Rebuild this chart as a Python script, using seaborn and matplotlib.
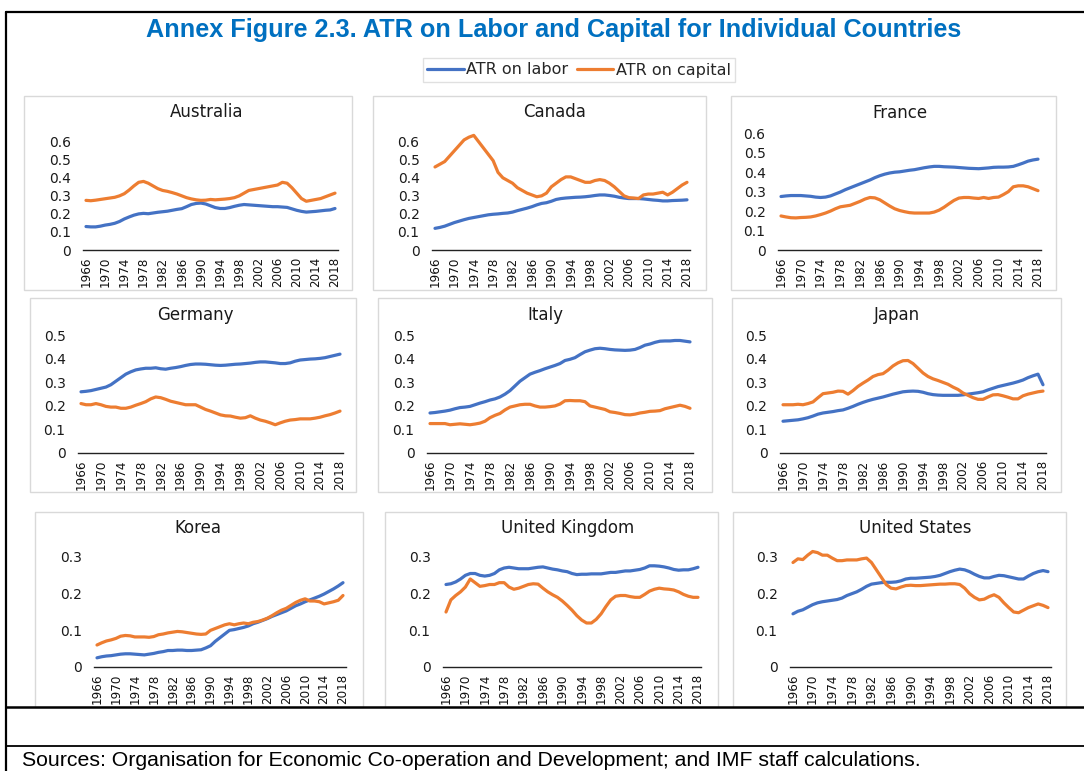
import numpy as np
import pandas as pd
import matplotlib
matplotlib.use("Agg")
import matplotlib.pyplot as plt
from matplotlib.lines import Line2D
from matplotlib.patches import Rectangle
import seaborn as sns

# ---------------- data ----------------
years = list(range(1966, 2019))
tick_years = list(range(1966, 2019, 4))
series_names = ["ATR on labor", "ATR on capital"]
countries = ["Australia", "Canada", "France", "Germany", "Italy", "Japan",
             "Korea", "United Kingdom", "United States"]

australia_labor = [.130, .128, .128, .132, .138, .142, .148, .158, .172, .183,
                   .193, .200, .203, .201, .205, .209, .212, .215, .220, .225,
                   .229, .240, .252, .258, .260, .255, .245, .235, .230, .230,
                   .235, .242, .248, .252, .250, .248, .246, .244, .242, .240,
                   .240, .238, .236, .228, .220, .214, .210, .212, .214, .217,
                   .220, .222, .230]
australia_capital = [.275, .273, .276, .280, .284, .288, .292, .300, .312, .332,
                     .355, .375, .380, .370, .355, .340, .330, .325, .318, .310,
                     .300, .290, .283, .278, .275, .276, .280, .278, .280, .282,
                     .285, .290, .300, .315, .330, .335, .340, .345, .350, .355,
                     .360, .375, .370, .345, .315, .285, .270, .275, .280, .285,
                     .295, .305, .315]
canada_labor = [.120, .125, .132, .142, .152, .160, .168, .175, .180, .185,
                .190, .195, .198, .200, .203, .205, .210, .218, .225, .232,
                .240, .250, .258, .262, .270, .280, .285, .288, .290, .292,
                .293, .295, .298, .302, .305, .305, .302, .298, .292, .288,
                .285, .285, .285, .283, .280, .277, .275, .272, .272, .274,
                .275, .276, .278]
canada_capital = [.460, .475, .490, .520, .550, .580, .610, .625, .635, .600,
                  .565, .530, .495, .430, .400, .385, .370, .345, .330, .315,
                  .305, .295, .300, .315, .350, .370, .390, .405, .405, .395,
                  .385, .375, .375, .385, .390, .385, .370, .350, .325, .300,
                  .290, .288, .285, .305, .310, .310, .315, .320, .305, .320,
                  .340, .360, .375]
france_labor = [.275, .278, .280, .280, .280, .278, .276, .272, .270, .272,
                .278, .288, .298, .310, .320, .330, .340, .350, .360, .372,
                .382, .390, .396, .400, .402, .406, .410, .413, .418, .423,
                .427, .430, .430, .428, .427, .426, .424, .422, .420, .419,
                .418, .420, .422, .425, .426, .426, .427, .430, .438, .447,
                .457, .463, .467]
france_capital = [.175, .170, .166, .165, .167, .168, .170, .175, .182, .190,
                  .200, .212, .222, .226, .230, .240, .250, .262, .270, .268,
                  .258, .242, .226, .212, .203, .197, .192, .190, .190, .190,
                  .190, .195, .205, .220, .238, .255, .267, .270, .270, .267,
                  .265, .270, .265, .270, .272, .285, .300, .325, .330, .330,
                  .325, .315, .305]
germany_labor = [.260, .262, .265, .270, .275, .280, .290, .305, .320, .335,
                 .345, .353, .357, .360, .360, .362, .358, .356, .360, .363,
                 .367, .372, .376, .378, .378, .377, .375, .373, .372, .373,
                 .375, .377, .378, .380, .382, .385, .387, .387, .385, .383,
                 .380, .380, .383, .390, .395, .397, .399, .400, .402, .405,
                 .410, .415, .420]
germany_capital = [.210, .205, .205, .210, .205, .198, .195, .195, .190, .190,
                   .195, .203, .210, .218, .230, .238, .235, .228, .220, .215,
                   .210, .205, .205, .205, .195, .185, .178, .170, .162, .158,
                   .157, .152, .148, .150, .158, .148, .140, .135, .128, .120,
                   .128, .135, .140, .142, .145, .145, .145, .148, .152, .158,
                   .163, .170, .178]
italy_labor = [.170, .172, .175, .178, .182, .188, .193, .195, .198, .205,
               .212, .218, .225, .230, .238, .250, .265, .285, .305, .320,
               .335, .343, .350, .358, .365, .372, .380, .393, .398, .405,
               .418, .430, .437, .443, .445, .443, .440, .438, .437, .436,
               .437, .440, .448, .458, .463, .470, .475, .476, .476, .478,
               .478, .475, .472]
italy_capital = [.125, .125, .125, .125, .120, .122, .124, .122, .120, .123,
                 .127, .135, .150, .160, .168, .183, .195, .200, .205, .207,
                 .207, .200, .195, .195, .197, .200, .208, .222, .223, .222,
                 .222, .218, .200, .195, .190, .185, .175, .172, .168, .163,
                 .162, .165, .170, .173, .177, .178, .180, .188, .193, .198,
                 .203, .198, .190]
japan_labor = [.135, .137, .139, .141, .145, .150, .157, .165, .170, .173,
               .176, .180, .183, .190, .198, .207, .215, .222, .228, .233,
               .238, .244, .250, .255, .260, .262, .263, .262, .258, .252,
               .248, .246, .245, .245, .245, .245, .247, .250, .253, .256,
               .260, .268, .275, .282, .287, .292, .297, .303, .310, .320,
               .328, .335, .290]
japan_capital = [.205, .205, .205, .207, .205, .210, .217, .235, .252, .255,
                 .258, .263, .262, .250, .265, .283, .297, .310, .325, .333,
                 .337, .352, .370, .383, .392, .393, .380, .360, .340, .325,
                 .315, .308, .300, .292, .280, .270, .255, .245, .235, .228,
                 .228, .238, .247, .248, .243, .237, .230, .230, .243, .250,
                 .255, .260, .263]
korea_labor = [.025, .028, .030, .031, .033, .035, .036, .036, .035, .034,
               .033, .035, .037, .040, .042, .045, .045, .046, .046, .045,
               .045, .046, .047, .052, .058, .070, .080, .090, .100, .102,
               .105, .108, .112, .118, .122, .127, .132, .138, .143, .148,
               .153, .160, .167, .172, .178, .183, .188, .193, .199, .206,
               .213, .221, .230]
korea_capital = [.060, .066, .071, .074, .078, .084, .086, .085, .082, .082,
                 .082, .081, .083, .088, .090, .093, .095, .097, .096, .094,
                 .092, .090, .089, .090, .100, .105, .110, .115, .118, .115,
                 .118, .120, .118, .122, .124, .128, .133, .140, .148, .155,
                 .160, .168, .176, .182, .186, .180, .180, .178, .172, .175,
                 .178, .182, .195]
uk_labor = [.225, .227, .232, .240, .250, .255, .255, .250, .248, .250,
            .255, .265, .270, .272, .270, .268, .268, .268, .270, .272,
            .273, .270, .267, .265, .262, .260, .255, .252, .253, .253,
            .254, .254, .254, .256, .258, .258, .260, .262, .262, .264,
            .266, .270, .276, .276, .275, .273, .270, .266, .264, .265,
            .265, .268, .272]
uk_capital = [.150, .183, .195, .205, .218, .240, .230, .220, .222, .225,
              .225, .230, .230, .218, .212, .215, .220, .225, .227, .226,
              .215, .205, .197, .190, .180, .168, .155, .140, .128, .120,
              .120, .130, .145, .165, .183, .193, .195, .195, .192, .190,
              .190, .198, .207, .212, .215, .213, .212, .210, .205, .198,
              .193, .190, .190]
us_labor = [.145, .152, .156, .163, .170, .175, .178, .180, .182, .184,
            .188, .195, .200, .205, .212, .220, .226, .228, .230, .231,
            .231, .232, .235, .240, .242, .242, .243, .244, .245, .247,
            .250, .255, .260, .264, .267, .265, .260, .253, .247, .243,
            .243, .247, .250, .249, .246, .243, .240, .240, .248, .255,
            .260, .263, .260]
us_capital = [.285, .295, .293, .305, .315, .312, .305, .305, .297, .290,
              .290, .292, .292, .292, .295, .297, .285, .265, .245, .225,
              .215, .213, .218, .222, .223, .222, .222, .223, .224, .225,
              .226, .226, .227, .227, .225, .215, .200, .190, .183, .185,
              .192, .197, .190, .175, .162, .150, .148, .155, .162, .167,
              .172, .168, .162]

labor_values = [australia_labor, canada_labor, france_labor, germany_labor, italy_labor,
                japan_labor, korea_labor, uk_labor, us_labor]
capital_values = [australia_capital, canada_capital, france_capital, germany_capital,
                  italy_capital, japan_capital, korea_capital, uk_capital, us_capital]
y_max = [0.6, 0.6, 0.6, 0.5, 0.5, 0.5, 0.3, 0.3, 0.3]

rows = []
for c, lab, cap in zip(countries, labor_values, capital_values):
    assert len(lab) == len(years) and len(cap) == len(years), c
    for y, a, b in zip(years, lab, cap):
        rows.append((c, y, series_names[0], a))
        rows.append((c, y, series_names[1], b))
df = pd.DataFrame(rows, columns=["country", "year", "series", "value"])

# ---------------- style ----------------
sns.set_theme(style="white")
plt.rcParams["font.family"] = ["DejaVu Sans"]
BLUE = "#4472C4"
ORANGE = "#ED7D31"
palette = {series_names[0]: BLUE, series_names[1]: ORANGE}

W, H = 1084, 771
fig = plt.figure(figsize=(W / 100, H / 100), dpi=100)


def fx(px):
    return px / W


def fy(py):
    return 1 - py / H


# panel layout in pixels
layout = {
    "Australia":      dict(xl=86, xr=335, y0=250, yt=141.7, tx=207, ty=112, box=(24, 96, 352, 290)),
    "Canada":         dict(xl=435, xr=687, y0=250, yt=141.7, tx=555, ty=112, box=(373, 96, 706, 290)),
    "France":         dict(xl=781, xr=1038, y0=250, yt=133.3, tx=900, ty=113, box=(731, 96, 1056, 290)),
    "Germany":        dict(xl=81, xr=340, y0=453, yt=335.3, tx=195, ty=315, box=(30, 298, 356, 492)),
    "Italy":          dict(xl=430, xr=690, y0=453, yt=335.3, tx=545, ty=315, box=(378, 298, 712, 492)),
    "Japan":          dict(xl=783, xr=1043, y0=453, yt=335.3, tx=897, ty=315, box=(732, 298, 1061, 492)),
    "Korea":          dict(xl=97, xr=343, y0=667, yt=557, tx=198, ty=528, box=(35, 512, 363, 707)),
    "United Kingdom": dict(xl=446, xr=698, y0=667, yt=557, tx=568, ty=528, box=(385, 512, 718, 707)),
    "United States":  dict(xl=793, xr=1048, y0=667, yt=557, tx=915, ty=528, box=(733, 512, 1066, 707)),
}

for c in countries:
    x0, y0b, x1, y1b = layout[c]["box"]
    fig.add_artist(Rectangle((fx(x0), fy(y1b)), (x1 - x0) / W, (y1b - y0b) / H,
                             transform=fig.transFigure, fill=False,
                             edgecolor="#D9D9D9", linewidth=1.0))

pad_years = 0.6
for c, ymax in zip(countries, y_max):
    L = layout[c]
    ppy = (L["xr"] - L["xl"]) / (years[-1] - years[0])
    left = L["xl"] - pad_years * ppy
    right = L["xr"] + pad_years * ppy
    ax = fig.add_axes([fx(left), fy(L["y0"]), (right - left) / W, (L["y0"] - L["yt"]) / H])
    ax.patch.set_alpha(0)
    sub = df[df["country"] == c]
    sns.lineplot(data=sub, x="year", y="value", hue="series", palette=palette,
                 hue_order=series_names, ax=ax, legend=False, linewidth=2.3,
                 errorbar=None)
    for ln in ax.lines:
        ln.set_clip_on(False)
        ln.set_solid_joinstyle("round")
        ln.set_solid_capstyle("round")
    ax.set_xlim(years[0] - pad_years, years[-1] + pad_years)
    ax.set_ylim(0, ymax)
    yt = np.round(np.arange(0, ymax + 1e-9, 0.1), 1)
    ax.set_yticks(yt)
    ax.set_yticklabels(["0" if v == 0 else f"{v:.1f}" for v in yt], fontsize=10, color="#1a1a1a")
    ax.set_xticks(tick_years)
    ax.set_xticklabels([str(t) for t in tick_years], rotation=90, fontsize=8.6, color="#111111")
    ax.tick_params(axis="both", length=0)
    ax.tick_params(axis="y", pad=9)
    ax.tick_params(axis="x", pad=5)
    ax.set_xlabel("")
    ax.set_ylabel("")
    ax.grid(False)
    for s in ["top", "right", "left"]:
        ax.spines[s].set_visible(False)
    ax.spines["bottom"].set_color("#222222")
    ax.spines["bottom"].set_linewidth(1.0)
    fig.text(fx(L["tx"]), fy(L["ty"]), c, ha="center", va="center", fontsize=12, color="#1a1a1a")

# main title
fig.text(fx(554), fy(30), "Annex Figure 2.3. ATR on Labor and Capital for Individual Countries",
         ha="center", va="center", fontsize=18.2, fontweight="bold", color="#0070C0",
         family=["Liberation Sans", "DejaVu Sans"])

# legend
handles = [Line2D([0], [0], color=BLUE, lw=2.3), Line2D([0], [0], color=ORANGE, lw=2.3)]
leg = fig.legend(handles, series_names, loc="center", bbox_to_anchor=(fx(579), fy(70)),
                 ncol=2, frameon=True, fontsize=11.5, handlelength=2.3, handletextpad=0.15,
                 columnspacing=0.5, borderpad=0.3, fancybox=False)
leg.get_frame().set_edgecolor("#D9D9D9")
leg.get_frame().set_linewidth(1.0)


def hline(y, x0, x1, lw):
    fig.add_artist(Line2D([fx(x0), fx(x1)], [fy(y), fy(y)], transform=fig.transFigure,
                          color="black", linewidth=lw))


def vline(x, y0, y1, lw):
    fig.add_artist(Line2D([fx(x), fx(x)], [fy(y0), fy(y1)], transform=fig.transFigure,
                          color="black", linewidth=lw))


hline(12, 6, 1084, 1.6)
hline(707, 6, 1084, 1.8)
hline(746, 6, 1084, 1.3)
vline(6, 12, 771, 1.6)

fig.text(fx(22), fy(760), "Sources: Organisation for Economic Co-operation and Development; and IMF staff calculations.",
         ha="left", va="center", fontsize=15.3, color="black", family=["Liberation Sans", "DejaVu Sans"])

fig.savefig("out.png", dpi=100)
